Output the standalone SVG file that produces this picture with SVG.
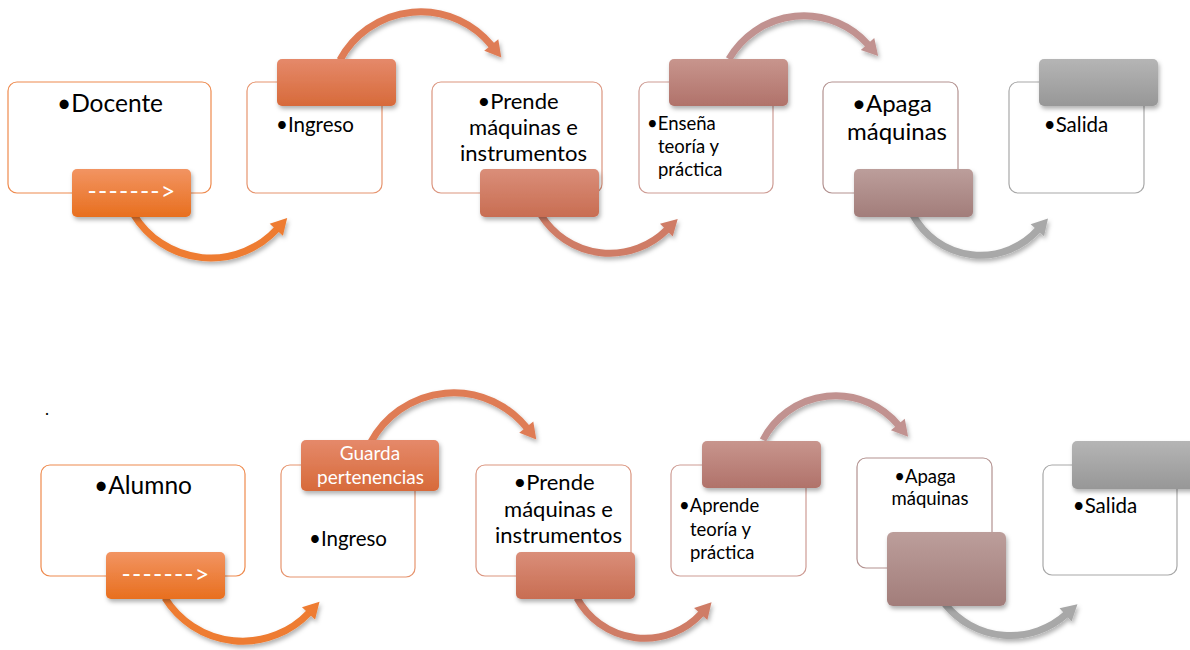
<svg xmlns="http://www.w3.org/2000/svg" width="1190" height="650" viewBox="0 0 1190 650">
<style>
.box{fill:#fff;stroke-width:1.2}
.t{font-family:Lato,"Liberation Sans",sans-serif;fill:#000}
.w{font-family:Lato,"Liberation Sans",sans-serif;fill:#fff}
.m{text-anchor:middle}
.arc{fill:none;stroke-width:7;stroke-linecap:butt}
.dash{font-size:25px;letter-spacing:1.2px}
</style>
<defs>
<filter id="sh" x="-20%" y="-20%" width="150%" height="160%"><feDropShadow dx="1.5" dy="3" stdDeviation="2" flood-color="#000" flood-opacity="0.3"/></filter>
<linearGradient id="g1" x1="0" y1="0" x2="0" y2="1"><stop offset="0" stop-color="#F29462"/><stop offset="1" stop-color="#E86F1E"/></linearGradient>
<linearGradient id="g2" x1="0" y1="0" x2="0" y2="1"><stop offset="0" stop-color="#E5896A"/><stop offset="1" stop-color="#D76A3A"/></linearGradient>
<linearGradient id="g3" x1="0" y1="0" x2="0" y2="1"><stop offset="0" stop-color="#DA8E79"/><stop offset="1" stop-color="#C86D52"/></linearGradient>
<linearGradient id="g4" x1="0" y1="0" x2="0" y2="1"><stop offset="0" stop-color="#C8958D"/><stop offset="1" stop-color="#B0726A"/></linearGradient>
<linearGradient id="g5" x1="0" y1="0" x2="0" y2="1"><stop offset="0" stop-color="#BC9E9B"/><stop offset="1" stop-color="#A27D7A"/></linearGradient>
<linearGradient id="g6" x1="0" y1="0" x2="0" y2="1"><stop offset="0" stop-color="#B5B5B5"/><stop offset="1" stop-color="#979797"/></linearGradient>
<marker id="m1" markerUnits="userSpaceOnUse" markerWidth="20" markerHeight="22" refX="1" refY="11" orient="auto" overflow="visible"><path d="M0,2 L16,11 L0,20 Z" fill="#EE7B30"/></marker>
<marker id="m2" markerUnits="userSpaceOnUse" markerWidth="20" markerHeight="22" refX="1" refY="11" orient="auto" overflow="visible"><path d="M0,2 L16,11 L0,20 Z" fill="#DF7C55"/></marker>
<marker id="m3" markerUnits="userSpaceOnUse" markerWidth="20" markerHeight="22" refX="1" refY="11" orient="auto" overflow="visible"><path d="M0,2 L16,11 L0,20 Z" fill="#CF7C66"/></marker>
<marker id="m4" markerUnits="userSpaceOnUse" markerWidth="20" markerHeight="22" refX="1" refY="11" orient="auto" overflow="visible"><path d="M0,2 L16,11 L0,20 Z" fill="#C19290"/></marker>
<marker id="m5" markerUnits="userSpaceOnUse" markerWidth="20" markerHeight="22" refX="1" refY="11" orient="auto" overflow="visible"><path d="M0,2 L16,11 L0,20 Z" fill="#A8A8A8"/></marker>
</defs>
<rect width="1190" height="650" fill="#fff"/>

<g id="connectors" filter="url(#sh)">
<path class="arc" stroke="#EE7B30" marker-end="url(#m1)" d="M134 215 A90 90 0 0 0 277 229"/>
<path class="arc" stroke="#DF7C55" marker-end="url(#m2)" d="M340 60 A91.6 91.6 0 0 1 491.9 45.8"/>
<path class="arc" stroke="#CF7C66" marker-end="url(#m3)" d="M541 215 A81 81 0 0 0 667.1 229.5"/>
<path class="arc" stroke="#C19290" marker-end="url(#m4)" d="M729 59 A86.2 86.2 0 0 1 868.2 44.8"/>
<path class="arc" stroke="#A8A8A8" marker-end="url(#m5)" d="M913 215 A77 77 0 0 0 1038 229.6"/>
<path class="arc" stroke="#EE7B30" marker-end="url(#m1)" d="M165 598 A91.6 91.6 0 0 0 309.2 612.6"/>
<path class="arc" stroke="#DF7C55" marker-end="url(#m2)" d="M371 442 A94 94 0 0 1 526.9 427.9"/>
<path class="arc" stroke="#CF7C66" marker-end="url(#m3)" d="M577 598 A77 77 0 0 0 701.4 613.3"/>
<path class="arc" stroke="#C19290" marker-end="url(#m4)" d="M763 440 A81.8 81.8 0 0 1 898.5 425.2"/>
<path class="arc" stroke="#A8A8A8" marker-end="url(#m5)" d="M945 604 A83.6 83.6 0 0 0 1066.3 614.2"/>
</g>

<g id="n-docente">
<rect class="box" x="8" y="82" width="203" height="111" rx="9" stroke="#EE8A4E"/>
<text class="t m" x="110" y="112" font-size="24.5">•Docente</text>
<rect x="72" y="169" width="119" height="48" rx="5" fill="url(#g1)" filter="url(#sh)"/>
<text class="w m dash" x="132" y="200">-------&gt;</text>
</g>
<g id="n-ingreso1">
<rect class="box" x="247" y="82" width="135" height="111" rx="9" stroke="#E6946E"/>
<text class="t m" x="315" y="132" font-size="20.5">•Ingreso</text>
<rect x="277" y="59" width="119" height="47" rx="5" fill="url(#g2)" filter="url(#sh)"/>
</g>
<g id="n-prende1">
<rect class="box" x="432" y="82" width="170" height="111" rx="9" stroke="#DB957F"/>
<text class="t m" font-size="22"><tspan x="518" y="109">•Prende</tspan><tspan x="523.5" y="135">máquinas e</tspan><tspan x="523.5" y="161">instrumentos</tspan></text>
<rect x="480" y="169" width="119" height="48" rx="5" fill="url(#g3)" filter="url(#sh)"/>
</g>
<g id="n-ensena">
<rect class="box" x="639" y="82" width="134" height="111" rx="9" stroke="#CE9C94"/>
<text class="t" font-size="18.5"><tspan x="647" y="130">•Enseña</tspan><tspan x="658" y="153">teoría y</tspan><tspan x="658" y="176">práctica</tspan></text>
<rect x="669" y="59" width="119" height="47" rx="5" fill="url(#g4)" filter="url(#sh)"/>
</g>
<g id="n-apaga1">
<rect class="box" x="823" y="82" width="135" height="111" rx="9" stroke="#B39290"/>
<text class="t m" font-size="24"><tspan x="892" y="112">•Apaga</tspan><tspan x="897" y="140">máquinas</tspan></text>
<rect x="854" y="169" width="119" height="48" rx="5" fill="url(#g5)" filter="url(#sh)"/>
</g>
<g id="n-salida1">
<rect class="box" x="1009" y="82" width="135" height="111" rx="9" stroke="#A8A8A8"/>
<text class="t m" x="1076" y="132" font-size="20.5">•Salida</text>
<rect x="1039" y="59" width="119" height="47" rx="5" fill="url(#g6)" filter="url(#sh)"/>
</g>

<text class="t" x="45" y="415" font-size="17">.</text>

<g id="n-alumno">
<rect class="box" x="41" y="465" width="204" height="111" rx="9" stroke="#EE8A4E"/>
<text class="t m" x="143" y="494" font-size="24.5">•Alumno</text>
<rect x="106" y="552" width="119" height="47" rx="5" fill="url(#g1)" filter="url(#sh)"/>
<text class="w m dash" x="166" y="583">-------&gt;</text>
</g>
<g id="n-ingreso2">
<rect class="box" x="281" y="465" width="134" height="112" rx="9" stroke="#E6946E"/>
<text class="t m" x="348" y="546" font-size="20.5">•Ingreso</text>
<rect x="301" y="440" width="138" height="51" rx="5" fill="url(#g2)" filter="url(#sh)"/>
<text class="w m" font-size="19"><tspan x="370" y="460">Guarda</tspan><tspan x="370.5" y="484">pertenencias</tspan></text>
</g>
<g id="n-prende2">
<rect class="box" x="476" y="465" width="155" height="111" rx="9" stroke="#DB957F"/>
<text class="t m" font-size="22"><tspan x="554" y="490">•Prende</tspan><tspan x="558.5" y="517">máquinas e</tspan><tspan x="558.5" y="543">instrumentos</tspan></text>
<rect x="516" y="552" width="119" height="47" rx="5" fill="url(#g3)" filter="url(#sh)"/>
</g>
<g id="n-aprende">
<rect class="box" x="671" y="465" width="135" height="111" rx="9" stroke="#CE9C94"/>
<text class="t" font-size="18.5"><tspan x="679" y="512">•Aprende</tspan><tspan x="690" y="536">teoría y</tspan><tspan x="690" y="559">práctica</tspan></text>
<rect x="702" y="441" width="119" height="47" rx="5" fill="url(#g4)" filter="url(#sh)"/>
</g>
<g id="n-apaga2">
<rect class="box" x="857" y="458" width="135" height="110" rx="9" stroke="#B39290"/>
<text class="t m" font-size="18.5"><tspan x="925" y="483">•Apaga</tspan><tspan x="930" y="505">máquinas</tspan></text>
<rect x="887" y="532" width="119" height="74" rx="6" fill="url(#g5)" filter="url(#sh)"/>
</g>
<g id="n-salida2">
<rect class="box" x="1043" y="465" width="134" height="110" rx="9" stroke="#A8A8A8"/>
<text class="t m" x="1105" y="513" font-size="20.5">•Salida</text>
<rect x="1072" y="441" width="125" height="48" rx="5" fill="url(#g6)" filter="url(#sh)"/>
</g>
</svg>
